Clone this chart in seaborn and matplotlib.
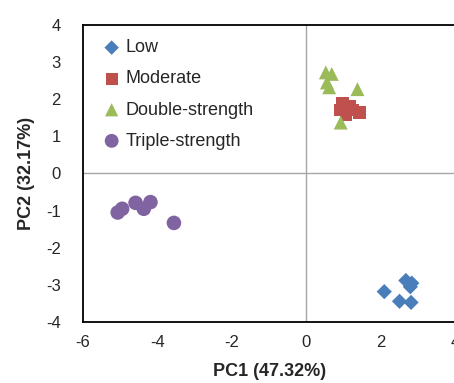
import numpy as np
import pandas as pd
import matplotlib
matplotlib.use("Agg")
import matplotlib.pyplot as plt
import seaborn as sns

groups = ["Low", "Moderate", "Double-strength", "Triple-strength"]
low_pc1 = [2.09, 2.50, 2.81, 2.67, 2.83, 2.79]
low_pc2 = [-3.18, -3.44, -3.47, -2.88, -2.95, -3.05]
mod_pc1 = [0.97, 1.15, 1.42, 1.06, 1.24, 0.92]
mod_pc2 = [1.89, 1.80, 1.64, 1.58, 1.71, 1.71]
dbl_pc1 = [0.52, 0.68, 0.55, 0.61, 1.37, 0.92]
dbl_pc2 = [2.72, 2.68, 2.45, 2.32, 2.27, 1.37]
tri_pc1 = [-5.07, -4.95, -4.59, -4.37, -4.19, -3.56]
tri_pc2 = [-1.05, -0.95, -0.79, -0.95, -0.77, -1.33]
x_ticks = [-6, -4, -2, 0, 2, 4]
y_ticks = [-4, -3, -2, -1, 0, 1, 2, 3, 4]

df = pd.concat([
    pd.DataFrame({"PC1": low_pc1, "PC2": low_pc2, "Group": groups[0]}),
    pd.DataFrame({"PC1": mod_pc1, "PC2": mod_pc2, "Group": groups[1]}),
    pd.DataFrame({"PC1": dbl_pc1, "PC2": dbl_pc2, "Group": groups[2]}),
    pd.DataFrame({"PC1": tri_pc1, "PC2": tri_pc2, "Group": groups[3]}),
], ignore_index=True)

sns.set_style("white")
plt.rcParams["font.family"] = ["Liberation Sans", "DejaVu Sans"]
plt.rcParams["axes.unicode_minus"] = False

palette = {"Low": "#4A7EBB", "Moderate": "#C0504D",
           "Double-strength": "#9BBB59", "Triple-strength": "#8064A2"}
markers = {"Low": "D", "Moderate": "s", "Double-strength": "^", "Triple-strength": "o"}
sizes = {"Low": 60, "Moderate": 85, "Double-strength": 100, "Triple-strength": 110}

fig = plt.figure(figsize=(4.54, 3.83), dpi=100)
pos = [0.183, 0.159, 0.820, 0.776]
ax = fig.add_axes(pos)

for g in groups:
    sub = df[df.Group == g]
    sns.scatterplot(data=sub, x="PC1", y="PC2", color=palette[g], marker=markers[g],
                    s=sizes[g], edgecolor="none", label=g, ax=ax, zorder=3)

ax.set_xlim(-6, 4)
ax.set_ylim(-4, 4)
ax.set_xticks(x_ticks)
ax.set_yticks(y_ticks)
ax.tick_params(axis="x", length=0, labelsize=12, pad=9)
ax.tick_params(axis="y", length=0, labelsize=12, pad=16)
for s in ax.spines.values():
    s.set_color("black")
    s.set_linewidth(1.3)
ax.axhline(0, color="#a6a6a6", lw=1.0, zorder=1)
ax.axvline(0, color="#a6a6a6", lw=1.0, zorder=1)

# tick marks along the zero axes (independent overlay axes)
ax2 = fig.add_axes(pos)
ax2.set_xlim(-6, 4)
ax2.set_ylim(-4, 4)
ax2.patch.set_alpha(0)
for side in ax2.spines:
    ax2.spines[side].set_visible(False)
ax2.spines["left"].set_position("zero")
ax2.spines["bottom"].set_position("zero")
ax2.set_xticks([t for t in x_ticks if t not in (-6, 0, 4)])
ax2.set_yticks([t for t in y_ticks if t not in (-4, 0, 4)])
ax2.tick_params(direction="inout", length=7, width=1.0, color="#a6a6a6",
                labelbottom=False, labelleft=False)

ax.set_xlabel("PC1 (47.32%)", fontsize=13, fontweight="bold", labelpad=10)
ax.set_ylabel("PC2 (32.17%)", fontsize=13, fontweight="bold", labelpad=8)

leg = ax.legend(loc="upper left", frameon=False, fontsize=13, handletextpad=0.05,
                handlelength=1.4, labelspacing=0.78, borderaxespad=0.4,
                markerscale=0.95, bbox_to_anchor=(0.004, 1.0))

fig.savefig("out.png", dpi=100)
